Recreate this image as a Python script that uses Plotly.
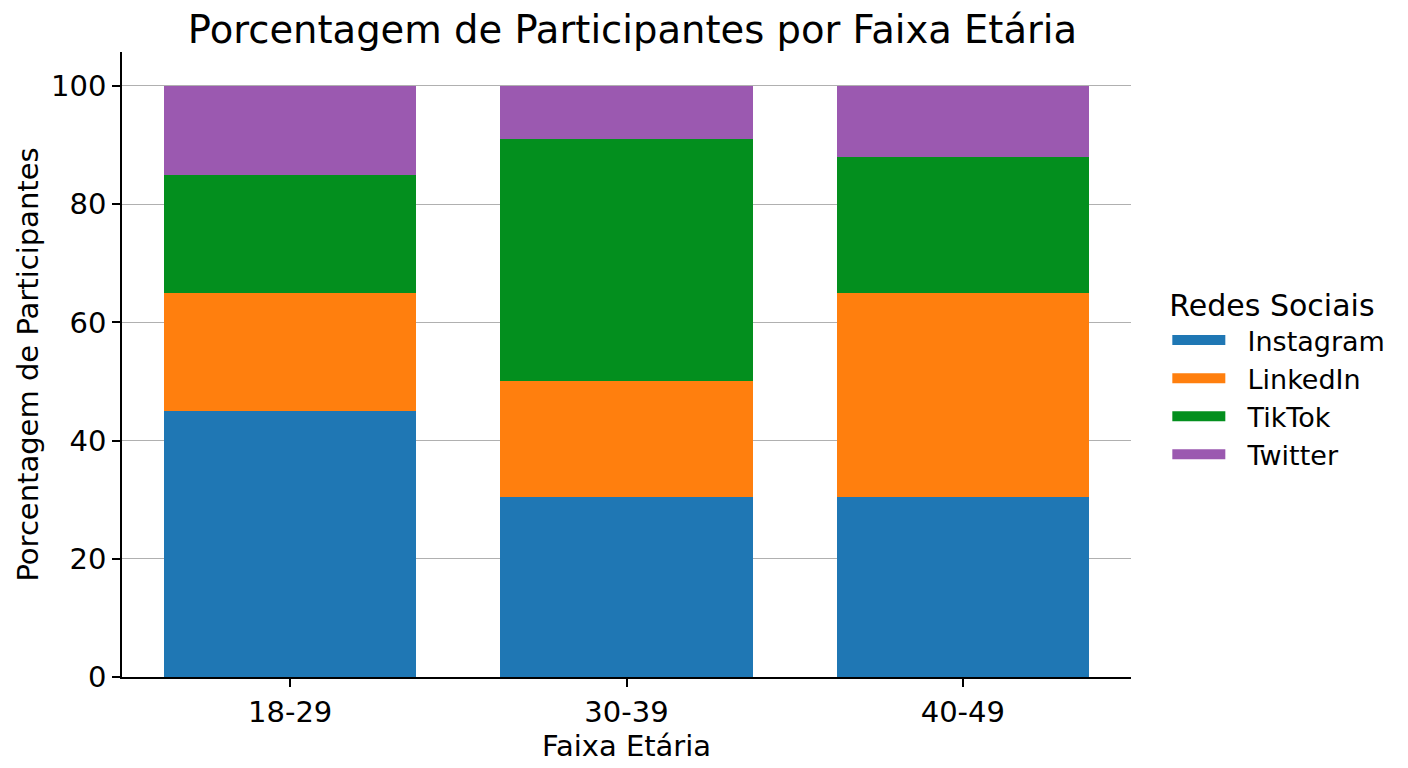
import plotly.graph_objects as go

categories = ["18-29", "30-39", "40-49"]
instagram = [45, 30.5, 30.5]
linkedin = [20, 19.5, 34.5]
tiktok = [20, 41, 23]
twitter = [15, 9, 12]

series = [
    ("Instagram", instagram, "#1f77b4"),
    ("LinkedIn", linkedin, "#ff7f0e"),
    ("TikTok", tiktok, "#038f1e"),
    ("Twitter", twitter, "#9b59b0"),
]

FONT = "DejaVu Sans, Verdana, sans-serif"
PAD = "\u00a0\u00a0"

fig = go.Figure()
for name, vals, color in series:
    fig.add_trace(go.Bar(
        x=categories, y=vals, name=name, legendgroup=name, showlegend=False,
        marker=dict(color=color, line=dict(width=0)),
    ))
# legend entries drawn as wide thick lines
for name, vals, color in series:
    fig.add_trace(go.Scatter(
        x=[None], y=[None], mode="lines", name=PAD + name, legendgroup=name,
        line=dict(color=color, width=20), hoverinfo="skip",
    ))

fig.update_layout(
    width=1408, height=768,
    barmode="stack", bargap=0.25,
    paper_bgcolor="white", plot_bgcolor="white",
    margin=dict(l=122, r=277, t=52, b=91),
    font=dict(family=FONT, color="black", size=29),
    title=dict(text="Porcentagem de Participantes por Faixa Etária",
               x=632.5 / 1408, xanchor="center", y=1 - 30 / 768, yanchor="middle",
               font=dict(size=38.5, family=FONT, color="black")),
    legend=dict(
        title=dict(text="Redes Sociais", font=dict(size=30, family=FONT)),
        font=dict(size=27, family=FONT),
        x=1.036, xanchor="left", y=0.64, yanchor="top",
        itemwidth=53, tracegroupgap=0, bgcolor="rgba(0,0,0,0)",
    ),
    xaxis=dict(
        title=dict(text="Faixa Etária", font=dict(size=29), standoff=8),
        automargin=False,
        showline=True, linecolor="black", linewidth=1.5,
        ticks="outside", ticklen=8, tickcolor="black", tickwidth=1.5,
        tickfont=dict(size=29), showgrid=False, zeroline=False,
        range=[-0.5, 2.5],
    ),
    yaxis=dict(
        title=dict(text="Porcentagem de Participantes", font=dict(size=29), standoff=4),
        automargin=False,
        showline=True, linecolor="black", linewidth=1.5,
        ticks="outside", ticklen=8, tickcolor="black", tickwidth=1.5,
        tickfont=dict(size=29), range=[0, 105.75],
        tickvals=[0, 20, 40, 60, 80, 100],
        showgrid=True, gridcolor="#b0b0b0", gridwidth=1, zeroline=False,
    ),
)

fig.write_html("out.html")
